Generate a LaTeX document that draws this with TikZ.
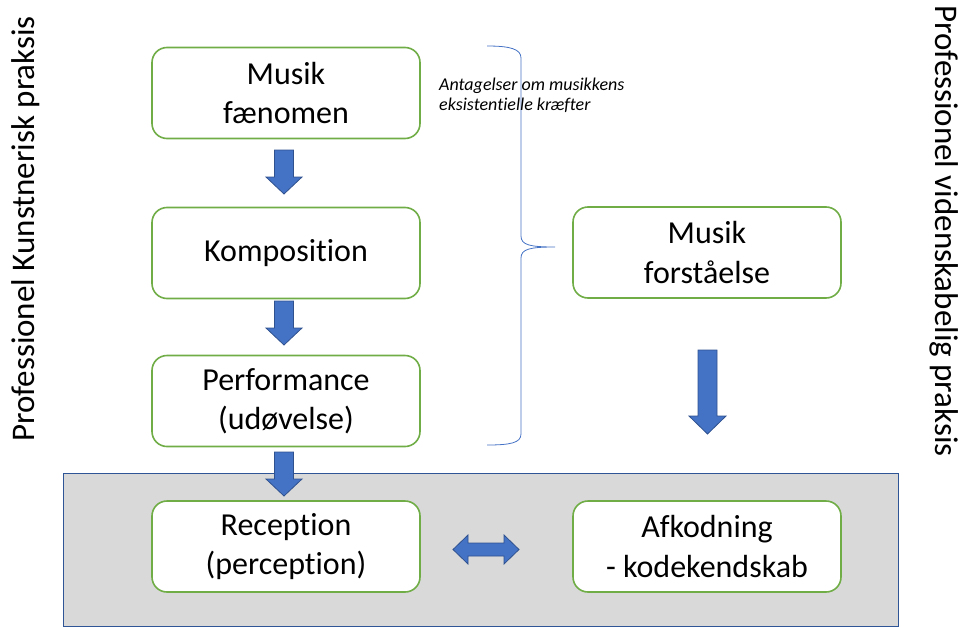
\documentclass[tikz,border=0pt]{standalone}
\usepackage{fontspec}
\setmainfont[Ligatures=NoCommon]{Carlito}
\usetikzlibrary{calc}
\definecolor{boxgreen}{HTML}{70AD47}
\definecolor{arrowblue}{HTML}{4472C4}
\definecolor{arrowedge}{HTML}{2F528F}
\definecolor{panelgray}{HTML}{D9D9D9}
\definecolor{paneledge}{HTML}{2F5597}
\tikzset{
  stage/.style={draw=boxgreen, line width=1.6pt, fill=white, rounded corners=15pt,
    minimum width=268pt, minimum height=91pt, align=center, inner sep=0pt,
    font=\fontsize{32}{39.5}\selectfont},
  blockarrow/.style={fill=arrowblue, draw=arrowedge, line width=0.8pt, line join=miter},
  sidelabel/.style={font=\fontsize{33}{38}\selectfont, inner sep=0pt},
}
\begin{document}
\begin{tikzpicture}[x=1pt,y=-1pt]
\useasboundingbox (0,0) rectangle (968,626);

% grey panel behind the two lower stages
\node[draw=paneledge, line width=1.2pt, fill=panelgray, minimum width=835pt,
  minimum height=153pt, inner sep=0pt, anchor=north west] (panel) at (63,473) {};

% stages of the artistic practice
\node[stage] (phen) at (286,93) {Musik\\fænomen};
\node[stage] (komp) at (286,253) {Komposition};
\node[stage] (perf) at (286,401) {Performance\\(udøvelse)};
\node[stage] (recp) at (286,546.5) {Reception\\(perception)};

% stages of the scholarly practice
\node[stage] (forst) at (707,252.5) {Musik\\forståelse};
\node[stage] (afk) at (707,546.5) {Afkodning\\- kodekendskab};

% downward block arrows between stages
\foreach \cx/\top/\neck/\tip in {284/150/177/194, 284/301/328/345, 284/452/479/496} {
  \draw[blockarrow] (\cx-9.5,\top) -- (\cx+9.5,\top) -- (\cx+9.5,\neck) -- (\cx+18,\neck)
    -- (\cx,\tip) -- (\cx-18,\neck) -- (\cx-9.5,\neck) -- cycle;
}
\draw[blockarrow] (698,350) -- (717,350) -- (717,416) -- (726,416) -- (707.5,434)
  -- (689,416) -- (698,416) -- cycle;

% two-way arrow between reception and decoding
\draw[blockarrow] (453,549.5) -- (468,535) -- (468,543) -- (504,543) -- (504,535)
  -- (519,549.5) -- (504,564) -- (504,556) -- (468,556) -- (468,564) -- cycle;

% brace gathering the upper three stages
\coordinate (btop) at (487,46);
\coordinate (bmid) at (555,247);
\coordinate (bbot) at (487,445);
\draw[arrowblue, line width=0.8pt]
  (btop) .. controls (510,46) and (521,49) .. (521,58)
  -- (521,236) .. controls (521,245) and (530,247) .. (bmid)
  .. controls (530,247) and (521,249) .. (521,258)
  -- (521,434) .. controls (521,443) and (510,445) .. (bbot);

\node[anchor=base west, align=left, font=\itshape\fontsize{18}{20}\selectfont, inner sep=0pt]
  (note) at (439,110) {Antagelser om musikkens\\eksistentielle kræfter};

% practice labels along the sides
\node[sidelabel, rotate=90] (artist) at (26,229) {Professionel Kunstnerisk praksis};
\node[sidelabel, rotate=-90] (scholar) at (944,231) {Professionel videnskabelig praksis};
\end{tikzpicture}
\end{document}
